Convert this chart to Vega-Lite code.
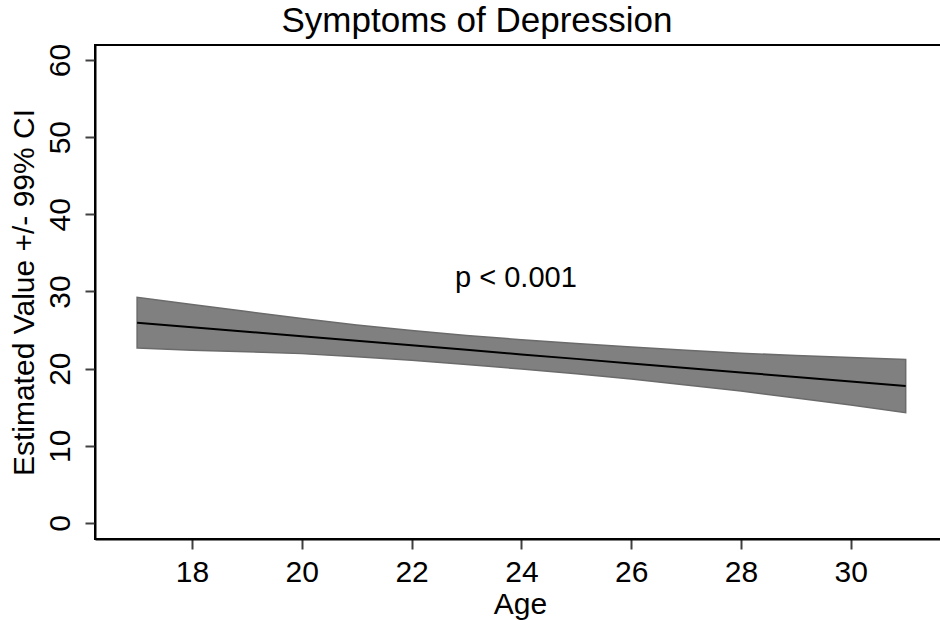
{
  "$schema": "https://vega.github.io/schema/vega-lite/v6.json",
  "width": 850,
  "height": 494,
  "autosize": {"type": "none"},
  "padding": {"left": 95, "top": 45, "right": 0, "bottom": 81},
  "background": "white",
  "title": {
    "text": "Symptoms of Depression",
    "font": "Liberation Sans",
    "fontSize": 35,
    "fontWeight": "normal",
    "color": "black",
    "anchor": "middle",
    "frame": "bounds",
    "offset": 4
  },
  "config": {
    "view": {"stroke": "black", "strokeWidth": 2},
    "axis": {
      "grid": false,
      "labelFont": "Liberation Sans",
      "labelFontSize": 30,
      "labelColor": "black",
      "titleFont": "Liberation Sans",
      "titleFontSize": 30,
      "titleFontWeight": "normal",
      "titleColor": "black",
      "domainColor": "black",
      "domainWidth": 2,
      "tickColor": "#404040",
      "tickWidth": 2,
      "tickSize": 10
    }
  },
  "data": {
    "values": [
      {"age": 17, "est": 25.96, "lo": 22.68, "hi": 29.25},
      {"age": 18, "est": 25.37, "lo": 22.4, "hi": 28.3},
      {"age": 19, "est": 24.79, "lo": 22.2, "hi": 27.4},
      {"age": 20, "est": 24.2, "lo": 21.95, "hi": 26.5},
      {"age": 21, "est": 23.61, "lo": 21.55, "hi": 25.65},
      {"age": 22, "est": 23.03, "lo": 21.1, "hi": 24.95},
      {"age": 23, "est": 22.44, "lo": 20.55, "hi": 24.3},
      {"age": 24, "est": 21.85, "lo": 19.95, "hi": 23.75},
      {"age": 25, "est": 21.27, "lo": 19.35, "hi": 23.25},
      {"age": 26, "est": 20.68, "lo": 18.65, "hi": 22.8},
      {"age": 27, "est": 20.1, "lo": 17.9, "hi": 22.4},
      {"age": 28, "est": 19.51, "lo": 17.1, "hi": 22.0},
      {"age": 29, "est": 18.92, "lo": 16.2, "hi": 21.7},
      {"age": 30, "est": 18.34, "lo": 15.3, "hi": 21.45},
      {"age": 31, "est": 17.75, "lo": 14.3, "hi": 21.2}
    ]
  },
  "layer": [
    {
      "mark": {"type": "area", "color": "#808080", "stroke": "#6b6b6b", "strokeWidth": 1.5, "opacity": 1},
      "encoding": {
        "x": {
          "field": "age",
          "type": "quantitative",
          "scale": {"domain": [16.233, 31.716], "nice": false, "zero": false},
          "axis": {
            "values": [18, 20, 22, 24, 26, 28, 30],
            "format": "d",
            "title": "Age",
            "labelPadding": 8,
            "titlePadding": 2
          }
        },
        "y": {
          "field": "lo",
          "type": "quantitative",
          "scale": {"domain": [-2.07, 61.94], "nice": false, "zero": false},
          "axis": {
            "values": [0, 10, 20, 30, 40, 50, 60],
            "format": "d",
            "title": "Estimated Value +/- 99% CI",
            "labelAngle": -90,
            "labelPadding": 10,
            "titlePadding": 6
          }
        },
        "y2": {"field": "hi"}
      }
    },
    {
      "mark": {"type": "line", "color": "black", "strokeWidth": 2},
      "encoding": {
        "x": {"field": "age", "type": "quantitative"},
        "y": {"field": "est", "type": "quantitative"}
      }
    },
    {
      "data": {"values": [{"age": 23.9, "value": 30.6, "label": "p < 0.001"}]},
      "mark": {"type": "text", "font": "Liberation Sans", "fontSize": 29, "color": "black", "align": "center", "baseline": "alphabetic"},
      "encoding": {
        "x": {"field": "age", "type": "quantitative"},
        "y": {"field": "value", "type": "quantitative"},
        "text": {"field": "label"}
      }
    }
  ]
}
